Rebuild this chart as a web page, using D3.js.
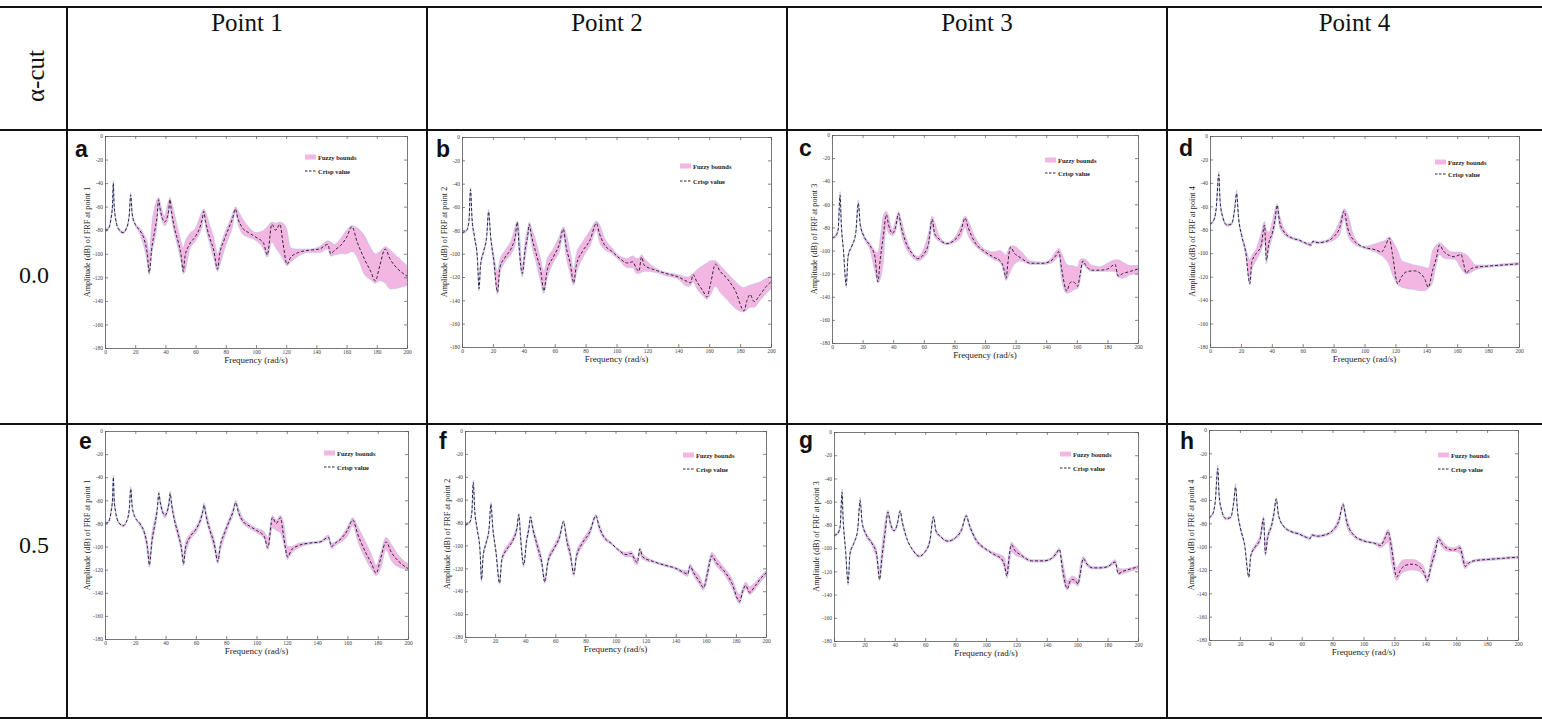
<!DOCTYPE html>
<html><head><meta charset="utf-8">
<script src="https://cdn.jsdelivr.net/npm/d3@7"></script>
<style>body{margin:0;background:#fff} svg{display:block}</style>
</head><body><svg id="c" width="1542" height="719"></svg>
<script>
// ---------- data ----------
const pointNames = ["Point 1","Point 2","Point 3","Point 4"];
const alphaCuts = ["0.0","0.5"];
const panelLetters = ["a","b","c","d","e","f","g","h"];
const xTicks = [0,20,40,60,80,100,120,140,160,180,200];
const yTicks = [0,-20,-40,-60,-80,-100,-120,-140,-160,-180];

// Point 1
const freqP1 = [0,2,4,5,5.5,6,7,9,12,14,16,17,18,20,23,26,28,29.3,31,33,34.5,35.5,36.5,38,39.5,41,42.2,43,44,46,48.5,50.5,51.8,53,56,60,63,64.5,65.4,66.5,69,72,74.5,76,79,82,84.5,86.3,88,91,95,100,105,107.5,110.5,113,115.8,118,120.5,123,128,135,142,147.5,149.5,152,156,160,163.5,167,172,176,179,182,185.5,189,194,200];
const crispP1 = [-80,-79,-70,-58,-40,-58,-70,-79,-82,-79,-68,-50,-66,-75,-80,-88,-100,-116,-95,-80,-68,-54,-62,-70,-73,-70,-63,-54,-64,-78,-90,-102,-115,-102,-92,-85,-77,-70,-64,-72,-85,-97,-113,-100,-88,-78,-70,-62,-70,-78,-82,-86,-91,-101,-75,-80,-75,-92,-109,-103,-99,-97,-96,-92,-100,-97,-93,-86,-77,-90,-105,-115,-123,-110,-96,-105,-113,-119];
const lowP1a0 = [-81,-80,-72,-61,-42,-61,-72,-80,-83,-80,-70,-52,-68,-76,-83,-95,-108,-118,-100,-88,-75,-60,-66,-73,-76,-74,-68,-60,-70,-83,-96,-108,-117,-115,-97,-89,-82,-76,-68,-77,-90,-104,-115,-110,-97,-86,-77,-65,-74,-83,-86,-89,-96,-103,-90,-95,-100,-105,-110,-107,-102,-99,-99,-96,-102,-101,-100,-100,-98,-103,-118,-122,-125,-123,-125,-130,-129,-127];
const highP1a0 = [-79,-78,-68,-55,-38,-55,-68,-78,-81,-78,-66,-48,-64,-74,-78,-84,-90,-100,-75,-60,-54,-52,-56,-64,-68,-60,-55,-52,-56,-66,-80,-90,-95,-90,-83,-78,-68,-63,-62,-64,-74,-86,-100,-95,-83,-74,-66,-60,-63,-70,-77,-82,-80,-77,-73,-74,-73,-74,-80,-95,-96,-96,-94,-89,-90,-92,-87,-80,-76,-78,-85,-95,-100,-98,-94,-97,-103,-110];
const lowP1a5 = [-81,-80,-72,-61,-42,-61,-72,-80,-83,-80,-70,-52,-68,-76,-82,-91,-106,-118,-100,-85,-72,-57,-65,-72,-75,-72,-66,-57,-67,-81,-94,-106,-117,-108,-95,-88,-80,-73,-66,-75,-88,-102,-115,-105,-92,-81,-73,-63,-72,-80,-84,-88,-93,-103,-84,-86,-88,-98,-111,-106,-101,-98,-97,-94,-102,-99,-96,-91,-82,-96,-111,-120,-125,-119,-103,-112,-118,-120];
const highP1a5 = [-79,-78,-68,-55,-38,-55,-68,-78,-81,-78,-66,-48,-64,-74,-79,-86,-96,-108,-88,-75,-64,-52,-59,-67,-71,-67,-60,-52,-60,-74,-86,-97,-108,-97,-89,-83,-74,-67,-62,-68,-81,-93,-107,-97,-85,-75,-67,-60,-66,-75,-80,-84,-87,-92,-73,-77,-73,-80,-100,-100,-97,-96,-95,-90,-97,-96,-91,-83,-75,-83,-96,-107,-116,-105,-92,-98,-108,-115];

// Point 2
const freqP2 = [0,3,4.5,5.5,6.5,8,10,11,12,14,16,17.2,18.5,20.5,23,24.5,28,32,34.5,35.8,37,39,41,42.5,43.5,45,48,51,53,55,59,63,65.5,67.5,70,72.3,74,78,83,87,89,92,97,102,107,110.5,113,114.5,116.2,118,125,132,140,146,148,149.5,152,156,158.5,161,164,167,172,177,182.5,184.5,186.5,189,193,197,200];
const crispP2 = [-82,-80,-72,-45,-70,-85,-105,-130,-110,-98,-85,-64,-85,-105,-133,-112,-103,-95,-85,-73,-95,-117,-95,-85,-75,-85,-100,-115,-132,-115,-103,-92,-79,-95,-108,-125,-110,-98,-88,-74,-83,-92,-98,-104,-108,-107,-113,-115,-103,-110,-114,-117,-120,-124,-125,-118,-124,-132,-137,-125,-109,-115,-122,-132,-149,-140,-135,-141,-135,-128,-124];
const lowP2a0 = [-83,-81,-74,-48,-73,-87,-107,-132,-112,-100,-87,-67,-87,-110,-135,-118,-107,-100,-92,-80,-100,-120,-103,-90,-80,-92,-108,-125,-134,-122,-108,-98,-85,-103,-117,-127,-117,-104,-93,-80,-90,-96,-100,-106,-112,-112,-117,-117,-116,-115,-116,-119,-122,-128,-127,-124,-130,-136,-139,-135,-128,-133,-140,-147,-150,-148,-146,-146,-140,-134,-130];
const highP2a0 = [-81,-79,-70,-43,-68,-83,-103,-128,-108,-96,-83,-62,-83,-100,-115,-105,-97,-88,-76,-72,-80,-110,-88,-78,-73,-78,-90,-105,-115,-105,-96,-85,-77,-83,-98,-113,-100,-90,-80,-72,-75,-86,-95,-102,-104,-102,-104,-104,-101,-104,-112,-116,-118,-120,-119,-117,-114,-110,-108,-106,-106,-110,-117,-124,-129,-128,-127,-126,-124,-121,-119];
const lowP2a5 = [-83,-81,-74,-48,-73,-87,-107,-132,-112,-100,-87,-67,-87,-107,-134,-115,-105,-97,-88,-75,-97,-119,-98,-88,-77,-88,-104,-119,-133,-118,-105,-95,-81,-99,-112,-127,-113,-101,-91,-76,-86,-94,-99,-105,-110,-110,-116,-117,-108,-112,-115,-118,-121,-126,-127,-121,-127,-135,-139,-130,-112,-118,-125,-136,-151,-143,-138,-143,-138,-131,-127];
const highP2a5 = [-81,-79,-70,-43,-68,-83,-103,-128,-108,-96,-83,-62,-83,-103,-128,-110,-100,-92,-82,-72,-88,-115,-92,-82,-74,-82,-96,-111,-128,-111,-100,-89,-78,-90,-104,-121,-106,-95,-85,-73,-80,-90,-97,-103,-106,-105,-110,-111,-102,-107,-113,-116,-119,-122,-122,-116,-121,-127,-134,-120,-106,-111,-119,-128,-143,-137,-132,-136,-132,-126,-122];

// Point 3
const freqP3 = [0,2,4,5.3,6,7.5,9.3,10.5,13,15.5,17.2,18.5,21,25,28,30,31.5,33.5,35.5,37,39.5,41.5,43.5,45,48,52,56,60,63,65.5,67,70,75,80,84,87,89,93,100,106,110,112,113.8,115,116.7,119,123,130,138,143,146,148.3,150,153.5,155.5,157,159.5,160.5,162,164,166,170,175,180,185,187,190,195,200];
const crispP3 = [-89,-88,-82,-52,-75,-100,-130,-105,-96,-85,-59,-78,-88,-96,-105,-127,-108,-88,-69,-78,-85,-80,-68,-78,-92,-102,-107,-103,-94,-73,-85,-90,-94,-91,-84,-72,-80,-92,-101,-106,-109,-114,-124,-110,-97,-102,-106,-111,-111,-109,-105,-101,-115,-135,-128,-127,-129,-131,-122,-109,-113,-117,-117,-116,-112,-122,-120,-118,-116];
const lowP3a0 = [-90,-89,-84,-55,-78,-102,-132,-107,-97,-87,-62,-80,-90,-100,-118,-128,-125,-110,-80,-85,-87,-84,-73,-84,-97,-105,-109,-106,-100,-80,-88,-92,-95,-93,-89,-80,-87,-95,-103,-108,-111,-118,-126,-123,-118,-112,-109,-112,-112,-111,-108,-105,-125,-137,-136,-135,-133,-133,-127,-112,-115,-118,-118,-118,-118,-123,-124,-121,-120];
const highP3a0 = [-88,-87,-80,-49,-72,-98,-128,-103,-95,-83,-56,-76,-86,-94,-100,-102,-90,-70,-66,-70,-82,-74,-66,-72,-87,-100,-105,-98,-85,-70,-75,-87,-93,-89,-79,-70,-74,-87,-99,-101,-100,-102,-104,-100,-96,-96,-100,-109,-110,-107,-101,-98,-102,-112,-113,-113,-114,-114,-108,-107,-108,-113,-114,-111,-108,-108,-110,-113,-113];
const lowP3a5 = [-90,-89,-84,-55,-78,-102,-132,-107,-97,-87,-62,-80,-90,-98,-110,-128,-115,-95,-72,-81,-86,-82,-70,-80,-93,-103,-108,-104,-96,-75,-87,-91,-95,-92,-86,-74,-82,-94,-102,-107,-111,-117,-126,-120,-103,-106,-108,-112,-112,-110,-107,-103,-121,-136,-131,-130,-132,-133,-126,-111,-115,-118,-118,-117,-114,-123,-122,-120,-118];
const highP3a5 = [-88,-87,-80,-49,-72,-98,-128,-103,-95,-83,-56,-76,-86,-94,-101,-118,-98,-78,-67,-75,-84,-78,-67,-76,-91,-101,-106,-102,-92,-72,-83,-89,-93,-90,-82,-71,-78,-90,-100,-104,-106,-108,-115,-105,-95,-98,-104,-110,-110,-108,-103,-100,-108,-128,-125,-124,-126,-127,-115,-107,-111,-116,-116,-115,-110,-117,-118,-117,-115];

// Point 4
const freqP4 = [0,2,4,5.7,6.5,8,11,14,16,17.2,18.5,20.5,23,25.8,27,30,33,35.3,36.5,38,40.5,42,43.5,45,48,53,58,63,65.5,66.5,70,75,80,84,86.8,89,93,100,107,111,113.5,116,118,121.5,124,127,132,136,139,141.3,144,146.5,148.5,151,155,158,162.5,164,165.8,168,172,180,190,200];
const crispP4 = [-75,-73,-62,-33,-55,-68,-76,-75,-62,-49,-70,-85,-98,-126,-108,-100,-94,-76,-106,-92,-82,-72,-59,-73,-82,-87,-89,-92,-93,-90,-91,-90,-86,-78,-64,-78,-89,-95,-97,-99,-94,-87,-100,-126,-120,-116,-115,-117,-122,-129,-115,-104,-93,-98,-102,-103,-101,-108,-117,-114,-112,-111,-110,-109];
const lowP4a0 = [-76,-74,-64,-36,-58,-70,-77,-76,-64,-52,-72,-87,-101,-127,-115,-106,-98,-90,-109,-98,-86,-78,-66,-78,-84,-88,-90,-93,-94,-91,-92,-91,-89,-84,-71,-84,-92,-96,-99,-102,-105,-110,-118,-127,-129,-130,-131,-132,-132,-130,-125,-110,-101,-104,-105,-105,-113,-116,-118,-117,-114,-112,-111,-110];
const highP4a0 = [-74,-72,-60,-30,-52,-66,-75,-74,-60,-46,-68,-83,-95,-105,-102,-96,-83,-73,-80,-82,-72,-63,-58,-67,-79,-86,-88,-91,-91,-89,-90,-89,-83,-72,-62,-66,-85,-94,-92,-90,-89,-86,-89,-98,-106,-108,-110,-111,-112,-113,-98,-93,-91,-93,-98,-99,-99,-100,-101,-104,-110,-110,-109,-108];
const lowP4a5 = [-76,-74,-64,-36,-58,-70,-77,-76,-64,-52,-72,-87,-99,-127,-110,-102,-96,-82,-108,-95,-84,-75,-61,-75,-83,-88,-90,-93,-94,-91,-92,-91,-88,-81,-67,-82,-91,-96,-98,-101,-99,-96,-113,-129,-124,-121,-120,-121,-125,-131,-119,-108,-96,-101,-104,-104,-106,-114,-119,-116,-113,-112,-111,-110];
const highP4a5 = [-74,-72,-60,-30,-52,-66,-75,-74,-60,-46,-68,-83,-97,-124,-106,-98,-90,-74,-95,-88,-79,-69,-58,-71,-81,-86,-88,-91,-92,-89,-90,-89,-85,-75,-62,-74,-88,-94,-96,-97,-91,-85,-94,-118,-113,-111,-111,-113,-117,-125,-108,-98,-91,-95,-100,-101,-99,-103,-112,-113,-111,-110,-109,-108];

// ---------- layout ----------
const panels = [
  {freq:freqP1, crisp:crispP1, low:lowP1a0, high:highP1a0, pt:1, box:[105,136,407,348], leg:[305,157,171], let:[75,157]},
  {freq:freqP2, crisp:crispP2, low:lowP2a0, high:highP2a0, pt:2, box:[462,137,771,347], leg:[680,166,181], let:[436,157]},
  {freq:freqP3, crisp:crispP3, low:lowP3a0, high:highP3a0, pt:3, box:[832,135,1138,343], leg:[1045,160,173], let:[799,156]},
  {freq:freqP4, crisp:crispP4, low:lowP4a0, high:highP4a0, pt:4, box:[1210,136,1519,347], leg:[1435,162,174], let:[1179,156]},
  {freq:freqP1, crisp:crispP1, low:lowP1a5, high:highP1a5, pt:1, box:[105,431,408,639], leg:[324,453,467], let:[79,449]},
  {freq:freqP2, crisp:crispP2, low:lowP2a5, high:highP2a5, pt:2, box:[465,431,766,637], leg:[683,455,469], let:[439,449]},
  {freq:freqP3, crisp:crispP3, low:lowP3a5, high:highP3a5, pt:3, box:[834,432,1138,641], leg:[1060,454,468], let:[799,448]},
  {freq:freqP4, crisp:crispP4, low:lowP4a5, high:highP4a5, pt:4, box:[1209,430,1518,640], leg:[1438,455,469], let:[1180,449]}
];

const svg = d3.select('#c');
const SERIF = "'Liberation Serif','Times New Roman',serif";
const SANS = "'Liberation Sans',Arial,sans-serif";
const FILL = '#f3b6e2', EDGE = '#b9c3f2', CRISP = '#2a2a33';
const CURVE = d3.curveMonotoneX;

// table grid
const hLines = [7,130,424,718];
const vLines = [67,427,787,1167];
svg.selectAll('line.h').data(hLines).join('line').attr('class','h')
  .attr('x1',0).attr('x2',1542).attr('y1',d=>d).attr('y2',d=>d)
  .attr('stroke','#111').attr('stroke-width',2);
svg.selectAll('line.v').data(vLines).join('line').attr('class','v')
  .attr('x1',d=>d).attr('x2',d=>d).attr('y1',7).attr('y2',718)
  .attr('stroke','#111').attr('stroke-width',2);

// header
const colCenters = [247,607,977,1354.5];
svg.selectAll('text.hdr').data(pointNames).join('text').attr('class','hdr')
  .attr('x',(d,i)=>colCenters[i]).attr('y',31).attr('text-anchor','middle')
  .attr('font-family',SERIF).attr('font-size',25).attr('fill','#111').text(d=>d);
svg.append('text').attr('transform','translate(44,76) rotate(-90)')
  .attr('text-anchor','middle').attr('font-family',SERIF).attr('font-size',25).attr('fill','#111').text('α-cut');
const rowY = [283,553];
svg.selectAll('text.row').data(alphaCuts).join('text').attr('class','row')
  .attr('x',34).attr('y',(d,i)=>rowY[i]).attr('text-anchor','middle')
  .attr('font-family',SERIF).attr('font-size',24).attr('fill','#111').text(d=>d);

function drawPanel(p, k){
  const [x0,y0,x1,y1] = p.box;
  const x = d3.scaleLinear().domain([0,200]).range([x0,x1]);
  const y = d3.scaleLinear().domain([-180,0]).range([y1,y0]);
  const g = svg.append('g');
  const idx = d3.range(p.freq.length);

  g.append('path').datum(idx)
    .attr('d', d3.area().curve(CURVE).x(i=>x(p.freq[i])).y0(i=>y(p.low[i])).y1(i=>y(p.high[i])))
    .attr('fill', FILL);
  [p.low, p.high].forEach(arr=>{
    g.append('path').datum(idx)
      .attr('d', d3.line().curve(CURVE).x(i=>x(p.freq[i])).y(i=>y(arr[i])))
      .attr('fill','none').attr('stroke',EDGE).attr('stroke-width',0.6);
  });
  g.append('path').datum(idx)
    .attr('d', d3.line().curve(CURVE).x(i=>x(p.freq[i])).y(i=>y(p.crisp[i])))
    .attr('fill','none').attr('stroke',CRISP).attr('stroke-width',1)
    .attr('stroke-dasharray','3,2');

  const style = sel => {
    sel.select('.domain').attr('stroke','#555').attr('stroke-width',0.8);
    sel.selectAll('.tick line').attr('stroke','#555').attr('stroke-width',0.7);
    sel.selectAll('.tick text').attr('font-family',SERIF).attr('font-size',5.5).attr('fill','#444');
  };
  g.append('g').attr('transform',`translate(0,${y1})`)
    .call(d3.axisBottom(x).tickValues(xTicks).tickSizeInner(-3).tickSizeOuter(0).tickPadding(2).tickFormat(d=>String(d))).call(style);
  g.append('g').attr('transform',`translate(0,${y0})`)
    .call(d3.axisTop(x).tickValues(xTicks).tickSizeInner(-3).tickSizeOuter(0).tickFormat('')).call(style);
  g.append('g').attr('transform',`translate(${x0},0)`)
    .call(d3.axisLeft(y).tickValues(yTicks).tickSizeInner(-3).tickSizeOuter(0).tickPadding(2).tickFormat(d=>String(d))).call(style);
  g.append('g').attr('transform',`translate(${x1},0)`)
    .call(d3.axisRight(y).tickValues(yTicks).tickSizeInner(-3).tickSizeOuter(0).tickFormat('')).call(style);

  g.append('text').attr('x',(x0+x1)/2).attr('y',y1+15).attr('text-anchor','middle')
    .attr('font-family',SERIF).attr('font-size',9).attr('fill','#222').text('Frequency (rad/s)');
  g.append('text').attr('transform',`translate(${x0-18},${(y0+y1)/2}) rotate(-90)`)
    .attr('text-anchor','middle').attr('dominant-baseline','central')
    .attr('font-family',SERIF).attr('font-size',8.2).attr('fill','#222')
    .text('Amplitude (dB) of FRF at point ' + p.pt);

  // legend
  const [lx, ly1, ly2] = p.leg;
  g.append('rect').attr('x',lx).attr('y',ly1-2.5).attr('width',11).attr('height',5).attr('fill',FILL);
  g.append('line').attr('x1',lx).attr('x2',lx+11).attr('y1',ly2).attr('y2',ly2)
    .attr('stroke',CRISP).attr('stroke-width',1).attr('stroke-dasharray','2.5,1.5');
  g.append('text').attr('x',lx+13).attr('y',ly1).attr('dominant-baseline','central')
    .attr('font-family',SERIF).attr('font-weight','bold').attr('font-size',6.5).attr('fill','#222').text('Fuzzy bounds');
  g.append('text').attr('x',lx+13).attr('y',ly2).attr('dominant-baseline','central')
    .attr('font-family',SERIF).attr('font-weight','bold').attr('font-size',6.5).attr('fill','#222').text('Crisp value');

  g.append('text').attr('x',p.let[0]).attr('y',p.let[1])
    .attr('font-family',SANS).attr('font-weight','bold').attr('font-size',23).attr('fill','#111')
    .text(panelLetters[k]);
}
panels.forEach(drawPanel);
</script></body></html>
